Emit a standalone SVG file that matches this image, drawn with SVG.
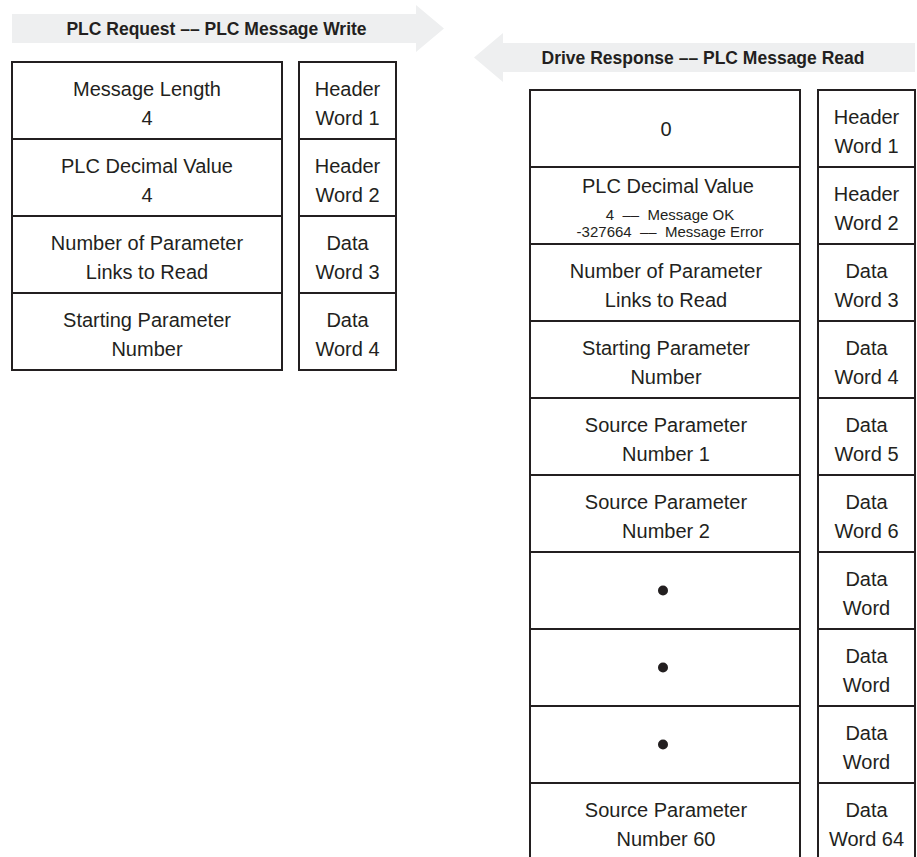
<svg xmlns="http://www.w3.org/2000/svg" width="917" height="857" viewBox="0 0 917 857">
<style>
.bg{fill:#ffffff}
.arrow{fill:#eeeff0}
.cell{fill:#ffffff;stroke:#231f20;stroke-width:2}
.t{font-family:"Liberation Sans",Arial,sans-serif;font-size:20px;fill:#231f20;text-anchor:middle}
.s{font-family:"Liberation Sans",Arial,sans-serif;font-size:15px;fill:#231f20;text-anchor:middle}
.title{font-family:"Liberation Sans",Arial,sans-serif;font-size:17.5px;font-weight:bold;fill:#231f20;text-anchor:middle}
.dot{fill:#231f20}
</style>
<rect class="bg" x="0" y="0" width="917" height="857"/>
<g id="connectors">
  <polygon id="arrow-request" class="arrow" points="12,14 416,14 416,5 444,28.5 416,52 416,43 12,43"/>
  <polygon id="arrow-response" class="arrow" points="915,43 503,43 503,33 474,57.5 503,82 503,72 915,72"/>
</g>
<text class="title" x="216.5" y="35">PLC Request –– PLC Message Write</text>
<text class="title" x="703" y="64">Drive Response –– PLC Message Read</text>

<!-- Left table -->
<g id="req-row1">
  <rect class="cell" x="12" y="62" width="270" height="77"/>
  <text class="t" x="147" y="96">Message Length</text>
  <text class="t" x="147" y="125">4</text>
</g>
<g id="req-row2">
  <rect class="cell" x="12" y="139" width="270" height="77"/>
  <text class="t" x="147" y="173">PLC Decimal Value</text>
  <text class="t" x="147" y="202">4</text>
</g>
<g id="req-row3">
  <rect class="cell" x="12" y="216" width="270" height="77"/>
  <text class="t" x="147" y="250">Number of Parameter</text>
  <text class="t" x="147" y="279">Links to Read</text>
</g>
<g id="req-row4">
  <rect class="cell" x="12" y="293" width="270" height="77"/>
  <text class="t" x="147" y="327">Starting Parameter</text>
  <text class="t" x="147" y="356">Number</text>
</g>
<g id="req-word1">
  <rect class="cell" x="299" y="62" width="97" height="77"/>
  <text class="t" x="347.5" y="96">Header</text>
  <text class="t" x="347.5" y="125">Word 1</text>
</g>
<g id="req-word2">
  <rect class="cell" x="299" y="139" width="97" height="77"/>
  <text class="t" x="347.5" y="173">Header</text>
  <text class="t" x="347.5" y="202">Word 2</text>
</g>
<g id="req-word3">
  <rect class="cell" x="299" y="216" width="97" height="77"/>
  <text class="t" x="347.5" y="250">Data</text>
  <text class="t" x="347.5" y="279">Word 3</text>
</g>
<g id="req-word4">
  <rect class="cell" x="299" y="293" width="97" height="77"/>
  <text class="t" x="347.5" y="327">Data</text>
  <text class="t" x="347.5" y="356">Word 4</text>
</g>

<!-- Right table -->
<g id="resp-row1">
  <rect class="cell" x="530" y="90" width="270" height="77"/>
  <text class="t" x="666" y="136">0</text>
</g>
<g id="resp-row2">
  <rect class="cell" x="530" y="167" width="270" height="77"/>
  <text class="t" x="668" y="193">PLC Decimal Value</text>
  <text class="s" x="670" y="220">4&#160;&#160;––&#160;&#160;Message OK</text>
  <text class="s" x="670" y="237">-327664&#160;&#160;––&#160;&#160;Message Error</text>
</g>
<g id="resp-row3">
  <rect class="cell" x="530" y="244" width="270" height="77"/>
  <text class="t" x="666" y="278">Number of Parameter</text>
  <text class="t" x="666" y="307">Links to Read</text>
</g>
<g id="resp-row4">
  <rect class="cell" x="530" y="321" width="270" height="77"/>
  <text class="t" x="666" y="355">Starting Parameter</text>
  <text class="t" x="666" y="384">Number</text>
</g>
<g id="resp-row5">
  <rect class="cell" x="530" y="398" width="270" height="77"/>
  <text class="t" x="666" y="432">Source Parameter</text>
  <text class="t" x="666" y="461">Number 1</text>
</g>
<g id="resp-row6">
  <rect class="cell" x="530" y="475" width="270" height="77"/>
  <text class="t" x="666" y="509">Source Parameter</text>
  <text class="t" x="666" y="538">Number 2</text>
</g>
<g id="resp-row7">
  <rect class="cell" x="530" y="552" width="270" height="77"/>
  <circle class="dot" cx="663" cy="590.5" r="5"/>
</g>
<g id="resp-row8">
  <rect class="cell" x="530" y="629" width="270" height="77"/>
  <circle class="dot" cx="663" cy="667.5" r="5"/>
</g>
<g id="resp-row9">
  <rect class="cell" x="530" y="706" width="270" height="77"/>
  <circle class="dot" cx="663" cy="744.5" r="5"/>
</g>
<g id="resp-row10">
  <rect class="cell" x="530" y="783" width="270" height="80"/>
  <text class="t" x="666" y="817">Source Parameter</text>
  <text class="t" x="666" y="846">Number 60</text>
</g>

<g id="resp-word1">
  <rect class="cell" x="818" y="90" width="97" height="77"/>
  <text class="t" x="866.5" y="124">Header</text>
  <text class="t" x="866.5" y="153">Word 1</text>
</g>
<g id="resp-word2">
  <rect class="cell" x="818" y="167" width="97" height="77"/>
  <text class="t" x="866.5" y="201">Header</text>
  <text class="t" x="866.5" y="230">Word 2</text>
</g>
<g id="resp-word3">
  <rect class="cell" x="818" y="244" width="97" height="77"/>
  <text class="t" x="866.5" y="278">Data</text>
  <text class="t" x="866.5" y="307">Word 3</text>
</g>
<g id="resp-word4">
  <rect class="cell" x="818" y="321" width="97" height="77"/>
  <text class="t" x="866.5" y="355">Data</text>
  <text class="t" x="866.5" y="384">Word 4</text>
</g>
<g id="resp-word5">
  <rect class="cell" x="818" y="398" width="97" height="77"/>
  <text class="t" x="866.5" y="432">Data</text>
  <text class="t" x="866.5" y="461">Word 5</text>
</g>
<g id="resp-word6">
  <rect class="cell" x="818" y="475" width="97" height="77"/>
  <text class="t" x="866.5" y="509">Data</text>
  <text class="t" x="866.5" y="538">Word 6</text>
</g>
<g id="resp-word7">
  <rect class="cell" x="818" y="552" width="97" height="77"/>
  <text class="t" x="866.5" y="586">Data</text>
  <text class="t" x="866.5" y="615">Word</text>
</g>
<g id="resp-word8">
  <rect class="cell" x="818" y="629" width="97" height="77"/>
  <text class="t" x="866.5" y="663">Data</text>
  <text class="t" x="866.5" y="692">Word</text>
</g>
<g id="resp-word9">
  <rect class="cell" x="818" y="706" width="97" height="77"/>
  <text class="t" x="866.5" y="740">Data</text>
  <text class="t" x="866.5" y="769">Word</text>
</g>
<g id="resp-word10">
  <rect class="cell" x="818" y="783" width="97" height="80"/>
  <text class="t" x="866.5" y="817">Data</text>
  <text class="t" x="866.5" y="846">Word 64</text>
</g>
</svg>
